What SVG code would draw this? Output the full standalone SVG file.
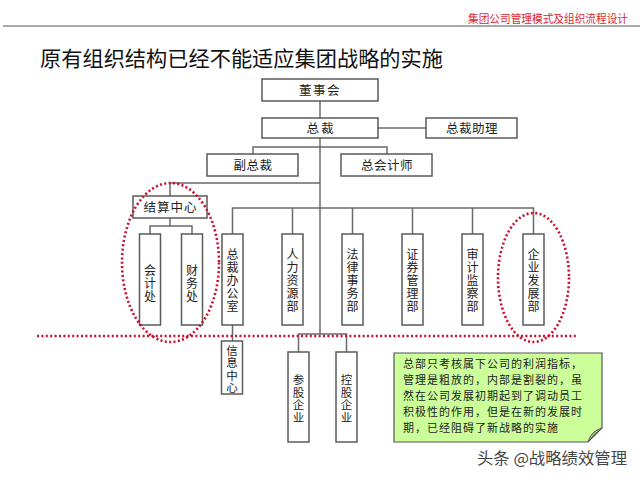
<svg xmlns="http://www.w3.org/2000/svg" width="640" height="480" viewBox="0 0 640 480">
<style>
.bx{fill:#fff;stroke:#5a5a5a;stroke-width:1.5}
.ln{stroke:#6a6a6a;stroke-width:1.5;fill:none}
.t{font-family:"Noto Sans CJK SC","Noto Sans",sans-serif;fill:#222;font-size:12.5px;text-anchor:middle}
.v{font-family:"Noto Sans CJK SC","Noto Sans",sans-serif;fill:#222;font-size:12px;text-anchor:middle}
.s{font-family:"Noto Sans CJK SC","Noto Sans",sans-serif;fill:#222;font-size:11.5px;text-anchor:middle}
.red{stroke:#c8102e;stroke-width:2.6;fill:none;stroke-dasharray:2 2.4}
.note{font-family:"Noto Sans CJK SC","Noto Sans",sans-serif;fill:#222;font-size:11px;letter-spacing:1px}
</style>
<rect width="640" height="480" fill="#fff"/>
<line x1="3" y1="26" x2="640" y2="26" stroke="#555" stroke-width="1.2"/>
<text x="628" y="22.5" font-family="Noto Sans CJK SC,sans-serif" font-size="11" fill="#d9262e" text-anchor="end" textLength="160" lengthAdjust="spacingAndGlyphs">集团公司管理模式及组织流程设计</text>
<text x="40" y="66" font-family="Noto Sans CJK SC,sans-serif" font-size="21" fill="#111" textLength="403" lengthAdjust="spacingAndGlyphs">原有组织结构已经不能适应集团战略的实施</text>

<g id="connectors">
<line class="ln" x1="320" y1="101" x2="320" y2="118"/>
<line class="ln" x1="320" y1="138" x2="320" y2="334"/>
<line class="ln" x1="378" y1="128" x2="426" y2="128"/>
<path class="ln" d="M253,154 V147 H387 V154"/>
<path class="ln" d="M320,183 H170 V196"/>
<line class="ln" x1="170" y1="218" x2="170" y2="226"/>
<path class="ln" d="M150,234 V226 H192 V234"/>
<path class="ln" d="M232.5,234 V208 H533.5 V234"/>
<line class="ln" x1="292.5" y1="208" x2="292.5" y2="234"/>
<line class="ln" x1="352.5" y1="208" x2="352.5" y2="234"/>
<line class="ln" x1="412.5" y1="208" x2="412.5" y2="234"/>
<line class="ln" x1="472.5" y1="208" x2="472.5" y2="234"/>
<line class="ln" x1="232.5" y1="325" x2="232.5" y2="341"/>
<path class="ln" d="M298.5,352 V334 H346.5 V352"/>
</g>

<g id="dongshihui"><rect class="bx" x="262" y="79" width="116" height="22"/><text class="t" x="320" y="94.5" letter-spacing="1.5">董事会</text></g>
<g id="zongcai"><rect class="bx" x="262" y="118" width="116" height="20"/><text class="t" x="321" y="132.5" letter-spacing="2">总裁</text></g>
<g id="zongcaizhuli"><rect class="bx" x="426" y="118" width="91" height="20"/><text class="t" x="472" y="132.5" letter-spacing="0.5">总裁助理</text></g>
<g id="fuzongcai"><rect class="bx" x="207" y="154" width="91" height="22"/><text class="t" x="253" y="169.5" letter-spacing="0.5">副总裁</text></g>
<g id="zongkuaijishi"><rect class="bx" x="341" y="154" width="91" height="22"/><text class="t" x="387" y="169.5" letter-spacing="0.5">总会计师</text></g>
<g id="jiesuanzhongxin"><rect class="bx" x="133" y="196" width="74" height="22"/><text class="t" x="170.5" y="211.5" letter-spacing="1">结算中心</text></g>

<g id="kuaijichu"><rect class="bx" x="139.5" y="234" width="21" height="91"/><text class="v"><tspan x="150" y="275">会</tspan><tspan x="150" y="288">计</tspan><tspan x="150" y="301">处</tspan></text></g>
<g id="caiwuchu"><rect class="bx" x="181.5" y="234" width="21" height="91"/><text class="v"><tspan x="192" y="275">财</tspan><tspan x="192" y="288">务</tspan><tspan x="192" y="301">处</tspan></text></g>
<g id="zongcaibangongshi"><rect class="bx" x="222" y="234" width="21" height="91"/><text class="v"><tspan x="232.5" y="259">总</tspan><tspan x="232.5" y="272">裁</tspan><tspan x="232.5" y="285">办</tspan><tspan x="232.5" y="298">公</tspan><tspan x="232.5" y="311">室</tspan></text></g>
<g id="renliziyuanbu"><rect class="bx" x="282" y="234" width="21" height="91"/><text class="v"><tspan x="292.5" y="259">人</tspan><tspan x="292.5" y="272">力</tspan><tspan x="292.5" y="285">资</tspan><tspan x="292.5" y="298">源</tspan><tspan x="292.5" y="311">部</tspan></text></g>
<g id="falvshiwubu"><rect class="bx" x="342" y="234" width="21" height="91"/><text class="v"><tspan x="352.5" y="259">法</tspan><tspan x="352.5" y="272">律</tspan><tspan x="352.5" y="285">事</tspan><tspan x="352.5" y="298">务</tspan><tspan x="352.5" y="311">部</tspan></text></g>
<g id="zhengquanguanlibu"><rect class="bx" x="402" y="234" width="21" height="91"/><text class="v"><tspan x="412.5" y="259">证</tspan><tspan x="412.5" y="272">券</tspan><tspan x="412.5" y="285">管</tspan><tspan x="412.5" y="298">理</tspan><tspan x="412.5" y="311">部</tspan></text></g>
<g id="shenjijianchabu"><rect class="bx" x="462" y="234" width="21" height="91"/><text class="v"><tspan x="472.5" y="259">审</tspan><tspan x="472.5" y="272">计</tspan><tspan x="472.5" y="285">监</tspan><tspan x="472.5" y="298">察</tspan><tspan x="472.5" y="311">部</tspan></text></g>
<g id="qiyefazhanbu"><rect class="bx" x="523" y="234" width="21" height="91"/><text class="v"><tspan x="533.5" y="259">企</tspan><tspan x="533.5" y="272">业</tspan><tspan x="533.5" y="285">发</tspan><tspan x="533.5" y="298">展</tspan><tspan x="533.5" y="311">部</tspan></text></g>
<g id="xinxizhongxin"><rect class="bx" x="221.5" y="341" width="21" height="53"/><text class="s"><tspan x="232" y="354.5">信</tspan><tspan x="232" y="367">息</tspan><tspan x="232" y="379.5">中</tspan><tspan x="232" y="392">心</tspan></text></g>
<g id="cangu"><rect class="bx" x="288" y="352" width="21" height="90"/><text class="s"><tspan x="298.5" y="384">参</tspan><tspan x="298.5" y="396.5">股</tspan><tspan x="298.5" y="409">企</tspan><tspan x="298.5" y="421.5">业</tspan></text></g>
<g id="konggu"><rect class="bx" x="336" y="352" width="21" height="90"/><text class="s"><tspan x="346.5" y="384">控</tspan><tspan x="346.5" y="396.5">股</tspan><tspan x="346.5" y="409">企</tspan><tspan x="346.5" y="421.5">业</tspan></text></g>

<g id="redmarks">
<line class="red" x1="37" y1="336" x2="576" y2="336"/>
<ellipse class="red" cx="170.5" cy="262.5" rx="48.5" ry="79.5"/>
<ellipse class="red" cx="533.5" cy="277.5" rx="35.5" ry="64.5"/>
</g>

<g id="note">
<path d="M394,353 H602 V428 L588,442 H394 Z" fill="#ccff99" stroke="#555" stroke-width="1.2"/>
<path d="M588,442 Q591,431 602,428 Q594,434 588,442 Z" fill="#a8d878" stroke="#555" stroke-width="1"/>
<text class="note"><tspan x="403" y="368">总部只考核属下公司的利润指标，</tspan><tspan x="403" y="384">管理是粗放的，内部是割裂的，虽</tspan><tspan x="403" y="400">然在公司发展初期起到了调动员工</tspan><tspan x="403" y="416">积极性的作用，但是在新的发展时</tspan><tspan x="403" y="432">期，已经阻碍了新战略的实施</tspan></text>
</g>
<text x="477" y="464" font-family="Noto Sans CJK SC,sans-serif" font-size="15.5" fill="#444" textLength="150" lengthAdjust="spacingAndGlyphs">头条 @战略绩效管理</text>
</svg>
